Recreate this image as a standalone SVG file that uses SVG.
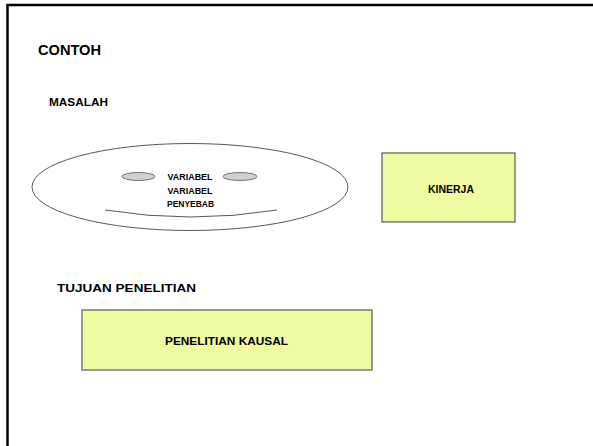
<svg xmlns="http://www.w3.org/2000/svg" width="593" height="446" viewBox="0 0 593 446">
  <style>
    .frame { fill: none; stroke: #000; stroke-width: 2.5; }
    .heading { font-family: "Liberation Sans", Arial, sans-serif; font-weight: bold; fill: #000; }
    .label { font-family: "Liberation Sans", Arial, sans-serif; font-weight: bold; fill: #000; text-anchor: middle; dominant-baseline: central; }
    .box { fill: #eefba0; stroke: #5a5a5a; stroke-width: 1.2; }
    .outline { fill: #fff; stroke: #444; stroke-width: 0.9; }
    .eye { fill: #d0d0d0; stroke: #555; stroke-width: 0.8; }
  </style>

  <rect width="593" height="446" fill="#fff"/>
  <!-- page border, open to the right and bottom -->
  <rect class="frame" x="7.5" y="5" width="600" height="460"/>

  <text class="heading" x="38" y="55" font-size="15" textLength="63" lengthAdjust="spacingAndGlyphs">CONTOH</text>
  <text class="heading" x="49" y="106" font-size="11.5" textLength="59" lengthAdjust="spacingAndGlyphs">MASALAH</text>
  <text class="heading" x="57" y="292" font-size="11.5" textLength="139" lengthAdjust="spacingAndGlyphs">TUJUAN PENELITIAN</text>

  <g id="masalah">
    <ellipse class="outline" cx="190" cy="187" rx="158" ry="43.5"/>
    <ellipse class="eye" cx="138.5" cy="176.5" rx="16.5" ry="4"/>
    <ellipse class="eye" cx="240" cy="176.5" rx="17" ry="4"/>
    <path d="M105,210 Q191,224 277,210" fill="none" stroke="#444" stroke-width="0.9"/>
    <text class="label" x="190" y="177" font-size="9" textLength="45" lengthAdjust="spacingAndGlyphs">VARIABEL</text>
    <text class="label" x="190" y="190.5" font-size="9" textLength="45" lengthAdjust="spacingAndGlyphs">VARIABEL</text>
    <text class="label" x="190.5" y="203.5" font-size="9" textLength="47" lengthAdjust="spacingAndGlyphs">PENYEBAB</text>
  </g>

  <g id="kinerja">
    <rect class="box" x="382" y="153" width="133" height="69"/>
    <text class="label" x="451" y="189" font-size="10" textLength="46" lengthAdjust="spacingAndGlyphs">KINERJA</text>
  </g>

  <g id="penelitian-kausal">
    <rect class="box" x="82" y="310" width="290" height="60"/>
    <text class="label" x="226.5" y="341" font-size="10" textLength="123" lengthAdjust="spacingAndGlyphs">PENELITIAN KAUSAL</text>
  </g>

  <g id="connectors"/>
</svg>
